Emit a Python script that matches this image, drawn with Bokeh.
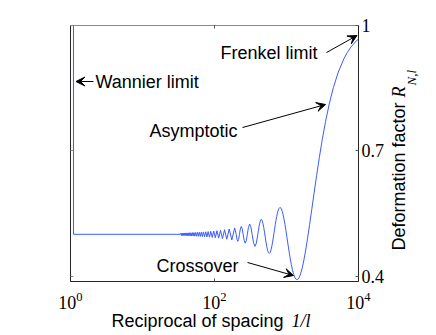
from math import pi
from bokeh.plotting import figure
from bokeh.models import LogAxis, LinearAxis, FixedTicker, Label, Arrow, VeeHead, Range1d
from bokeh.embed import file_html
from bokeh.resources import INLINE

# reciprocal of spacing 1/l (x) and deformation factor R_{N,l} (y)
inv_spacing = [
    1.1, 1.1, 33.6,
    34.19, 34.78, 35.40, 36.04, 36.70, 37.38, 38.10, 38.83, 39.60, 40.40,
    41.2, 42.1, 43.0, 44.0, 44.9, 46.0, 47.1, 48.2, 49.4, 50.6,
    51.9, 53.3, 54.8, 56.3, 58.0, 59.7, 61.5, 63.5, 65.6, 67.8,
    70.2, 72.7, 75.5, 78.4, 81.6, 85.1, 88.9, 93.0, 97.6, 102.6,
    108.1, 114.3, 121.2, 129.0, 137.9, 148.1, 160.0, 173.9, 190.5,
    200.0, 205.1, 210.5, 216.2, 222.2, 228.6, 235.3, 242.4, 250.0,
    258.1, 266.7, 275.9, 285.7, 296.3, 307.7, 320.0, 333.3,
    347.9, 363.6, 381.0, 400.0,
    408, 416, 425, 433, 442, 452, 462, 472, 483, 495, 507, 519, 532,
    546, 561, 576, 593, 610, 628, 641, 654, 668, 683, 698, 714, 731,
    748, 766, 785, 806, 827, 849, 873, 898, 924, 952, 982, 1013,
    1047, 1083, 1122, 1164, 1208, 1257, 1309, 1366, 1428, 1496,
    1571, 1653, 1745, 1848, 1963, 2094, 2244, 2417, 2618, 2856,
    3142, 3491, 3927, 4488, 5236, 6283, 6981, 7854, 8976, 10000,
]
deformation = [
    1.0, 0.5, 0.5,
    0.5027, 0.4972, 0.5028, 0.4971, 0.5029, 0.4970, 0.5030, 0.4969, 0.5032, 0.4968,
    0.5033, 0.4966, 0.5034, 0.4965, 0.5036, 0.4963, 0.5037, 0.4962, 0.5039, 0.4960,
    0.5041, 0.4958, 0.5044, 0.4955, 0.5046, 0.4952, 0.5049, 0.4949, 0.5052, 0.4946,
    0.5056, 0.4942, 0.5060, 0.4938, 0.5065, 0.4932, 0.5071, 0.4926, 0.5078, 0.4918,
    0.5086, 0.4909, 0.5096, 0.4897, 0.5110, 0.4882, 0.5127, 0.4862, 0.5152,
    0.5, 0.4885, 0.4832, 0.4878, 0.5, 0.5129, 0.5187, 0.5136, 0.5,
    0.4855, 0.4788, 0.4845, 0.5, 0.5167, 0.5245, 0.5180, 0.5,
    0.4804, 0.4711, 0.4786, 0.5003,
    0.5099, 0.5189, 0.5266, 0.5322, 0.5351, 0.5350, 0.5316, 0.5252, 0.5162, 0.5052, 0.4933, 0.4814, 0.4706,
    0.4619, 0.4563, 0.4543, 0.4565, 0.4627, 0.4728, 0.4813, 0.4909, 0.5013, 0.5121, 0.5229, 0.5332, 0.5427,
    0.5509, 0.5574, 0.5618, 0.5640, 0.5637, 0.5607, 0.5551, 0.5469, 0.5363, 0.5236, 0.5091, 0.4933,
    0.4767, 0.4599, 0.4436, 0.4284, 0.4150, 0.4041, 0.3962, 0.3920, 0.3919, 0.3962,
    0.4054, 0.4195, 0.4385, 0.4624, 0.4909, 0.5235, 0.5598, 0.5991, 0.6407, 0.6838,
    0.7273, 0.7705, 0.8124, 0.8519, 0.8883, 0.9207, 0.9352, 0.9484, 0.9601, 0.9677,
]

x_ticks = [1, 100, 10000]
y_ticks = [0.4, 0.7, 1]
y_tick_labels = {0.4: "0.4", 0.7: "0.7", 1: "1"}

# annotations: text, text anchor (x, y), arrow tail (x, y), arrow head (x, y)
notes = [
    ("Wannier limit", 2.225, 0.8659, 2.086, 0.8659, 1.192, 0.8659),
    ("Frenkel limit", 121.2, 0.9353, 3594, 0.9353, 9531, 0.976),
    ("Asymptotic", 12.51, 0.7462, 244.9, 0.7557, 3481, 0.8108),
    ("Crossover", 15.65, 0.4253, 287.3, 0.4325, 1251, 0.4013),
]

SANS = "Liberation Sans"
SERIF = "Liberation Serif"
DARK = "#262626"

p = figure(width=434, height=333, x_axis_type="log",
           x_range=Range1d(1, 1e4), y_range=Range1d(0.387, 1.0),
           output_backend="svg", toolbar_location=None,
           min_border_left=70, min_border_right=76,
           min_border_top=25, min_border_bottom=52)
p.grid.visible = False
p.outline_line_color = None

xa = p.xaxis[0]
xa.ticker = FixedTicker(ticks=x_ticks)
xa.minor_tick_line_color = None
xa.major_tick_in = 3
xa.major_tick_out = 0
xa.major_tick_line_color = "#555555"
xa.axis_line_color = DARK
xa.major_label_text_font = SERIF
xa.major_label_text_font_size = "18px"
xa.major_label_text_color = "black"
xa.major_label_standoff = 10

ya = p.yaxis[0]
ya.ticker = FixedTicker(ticks=y_ticks)
ya.minor_tick_line_color = None
ya.major_tick_in = 3
ya.major_tick_out = 0
ya.major_tick_line_color = "#888888"
ya.axis_line_color = DARK
ya.major_label_text_font_size = "1px"
ya.major_label_text_color = None
ya.major_label_standoff = 0

top = LogAxis(ticker=FixedTicker(ticks=[100]), minor_tick_line_color=None,
              major_tick_in=3, major_tick_out=0, major_tick_line_color="#555555",
              axis_line_color="#888888", major_label_text_font_size="1px",
              major_label_text_color=None, major_label_standoff=0)
p.add_layout(top, "above")

right = LinearAxis(ticker=FixedTicker(ticks=y_ticks), minor_tick_line_color=None,
                   major_tick_in=3, major_tick_out=0, major_tick_line_color="#555555",
                   axis_line_color=DARK, major_label_overrides=y_tick_labels,
                   major_label_text_font=SERIF, major_label_text_font_size="18px",
                   major_label_text_color="black", major_label_standoff=3)
p.add_layout(right, "right")

p.line(inv_spacing, deformation, line_color="#3b5bff", line_width=1)

for text, tx, ty, ax0, ay0, ax1, ay1 in notes:
    p.add_layout(Label(x=tx, y=ty, text=text, text_font=SANS, text_font_size="18px",
                       text_color="black", text_align="left", text_baseline="middle"))
    p.add_layout(Arrow(x_start=ax0, y_start=ay0, x_end=ax1, y_end=ay1,
                       line_color="black", line_width=1,
                       end=VeeHead(size=9, fill_color="black", line_color="black")))

# axis titles (placed in side panels so that they are not clipped to the frame)
p.add_layout(Label(x=3.71, y=0.2936, text="Reciprocal of spacing", text_font=SANS,
                   text_font_size="18px", text_color="black",
                   text_align="left", text_baseline="middle"), "below")
p.add_layout(Label(x=1173, y=0.2936, text="1/l", text_font=SERIF, text_font_style="italic",
                   text_font_size="18px", text_color="black",
                   text_align="left", text_baseline="middle"), "left")
p.add_layout(Label(x=35940, y=0.4612, text="Deformation factor", text_font=SANS,
                   text_font_size="18px", text_color="black", angle=pi / 2,
                   text_align="left", text_baseline="middle"), "right")
p.add_layout(Label(x=35940, y=0.8276, text="R", text_font=SERIF, text_font_style="italic",
                   text_font_size="18px", text_color="black", angle=pi / 2,
                   text_align="left", text_baseline="middle"), "left")
p.add_layout(Label(x=54450, y=0.8563, text="N,l", text_font=SERIF, text_font_style="italic",
                   text_font_size="13px", text_color="black", angle=pi / 2,
                   text_align="left", text_baseline="middle"), "left")

open("out.html", "w").write(file_html(p, INLINE))
